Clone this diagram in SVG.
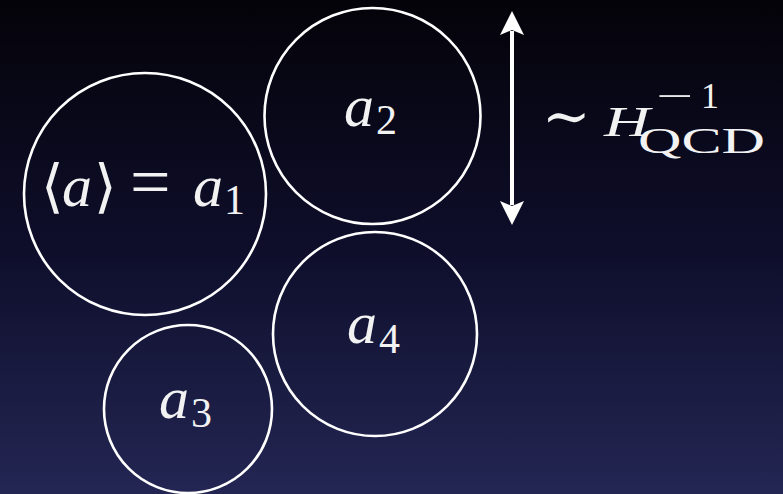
<svg xmlns="http://www.w3.org/2000/svg" width="783" height="494" viewBox="0 0 783 494">
  <defs>
    <linearGradient id="bg" x1="0" y1="0" x2="0" y2="1">
      <stop offset="0" stop-color="#040309"/>
      <stop offset="0.5" stop-color="#0e0e2b"/>
      <stop offset="1" stop-color="#232653"/>
    </linearGradient>
    <marker id="head" viewBox="0 0 24 26" refX="4" refY="12" markerWidth="24" markerHeight="26" markerUnits="userSpaceOnUse" orient="auto-start-reverse">
      <path d="M0,0 L24,12 L0,24 L5,12 Z" fill="#fff"/>
    </marker>
    <style>
      .c { fill: none; stroke: #ffffff; stroke-width: 2.6; }
      .t { fill: #f2f2f2; font-family: "Liberation Serif", "DejaVu Serif", serif; }
      .i { font-style: italic; }
      .s { font-family: "DejaVu Serif", "Liberation Serif", serif; font-weight: 200; }
    </style>
  </defs>
  <rect x="0" y="0" width="783" height="494" fill="url(#bg)"/>

  <g id="node-a1">
    <circle class="c" cx="145" cy="194" r="121"/>
    <text class="t" y="206" font-size="60"><tspan class="s" x="41" font-size="58">⟨</tspan><tspan class="i" x="62">a</tspan><tspan class="s" x="94" font-size="58">⟩</tspan><tspan x="130" font-size="72">=</tspan><tspan class="i" x="193">a</tspan><tspan x="224" font-size="42" dy="8">1</tspan></text>
  </g>

  <g id="node-a2">
    <circle class="c" cx="372.5" cy="116" r="108"/>
    <text class="t" y="126" font-size="60"><tspan class="i" x="344">a</tspan><tspan x="376" font-size="42" dy="8">2</tspan></text>
  </g>

  <g id="node-a4">
    <circle class="c" cx="375" cy="334" r="102"/>
    <text class="t" y="343" font-size="60"><tspan class="i" x="347">a</tspan><tspan x="379" font-size="42" dy="10">4</tspan></text>
  </g>

  <g id="node-a3">
    <circle class="c" cx="188" cy="409" r="84"/>
    <text class="t" y="418" font-size="60"><tspan class="i" x="159">a</tspan><tspan x="191" font-size="42" dy="9">3</tspan></text>
  </g>

  <g id="connectors">
    <line x1="512" y1="31" x2="512" y2="205" stroke="#fff" stroke-width="4" marker-start="url(#head)" marker-end="url(#head)"/>
  </g>

  <g id="label-scale">
    <text class="t" y="136" font-size="42"><tspan class="s" x="542" font-size="58">∼</tspan><tspan class="i" x="604" textLength="46" lengthAdjust="spacingAndGlyphs">H</tspan></text>
    <text class="t" y="108" font-size="36"><tspan x="656" textLength="37" lengthAdjust="spacingAndGlyphs">−</tspan><tspan x="701">1</tspan></text>
    <text class="t" x="638" y="153" font-size="35" textLength="127" lengthAdjust="spacingAndGlyphs">QCD</text>
  </g>
</svg>
